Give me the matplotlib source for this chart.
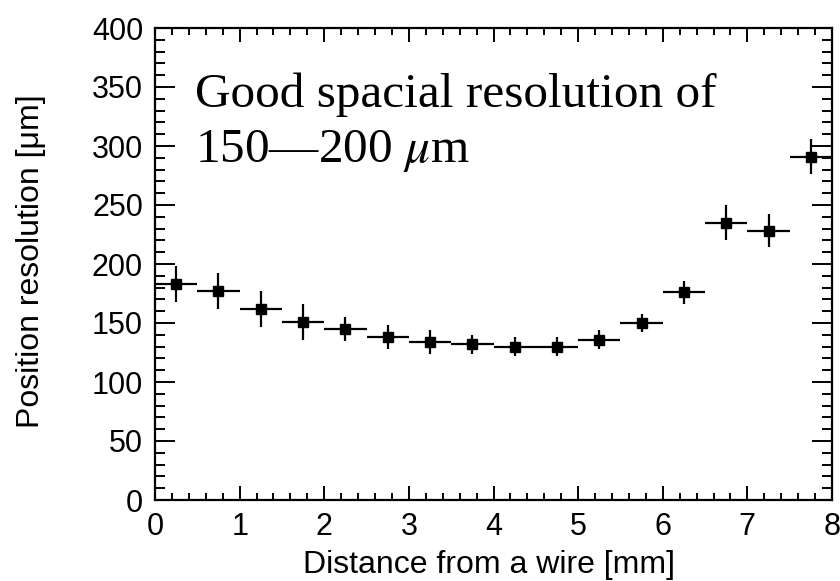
import numpy as np
import matplotlib
matplotlib.use('Agg')
import matplotlib.pyplot as plt
from matplotlib.ticker import MultipleLocator

# bin centres [mm] and resolution [um]
distance = [0.25, 0.75, 1.25, 1.75, 2.25, 2.75, 3.25, 3.75,
            4.25, 4.75, 5.25, 5.75, 6.25, 6.75, 7.25, 7.75]
resolution = [183, 177, 162, 151, 145, 138, 134, 132,
              130, 130, 136, 150, 176, 235, 228, 291]
res_err = [15, 15, 15, 15, 10, 10, 10, 8,
           8, 8, 8, 8, 10, 15, 14, 15]
bin_half = [0.25] * len(distance)

plt.rcParams['font.family'] = ['Liberation Sans', 'DejaVu Sans']
plt.rcParams['mathtext.fontset'] = 'stix'

fig = plt.figure(figsize=(8.4, 5.81), dpi=100)
ax = fig.add_axes([155 / 840, 81 / 581, 677 / 840, 472 / 581])

ax.errorbar(distance, resolution, xerr=bin_half, yerr=res_err,
            fmt='s', color='black', ms=7.2, elinewidth=1.6, capsize=0)

ax.set_xlim(0, 8)
ax.set_ylim(0, 400)
ax.xaxis.set_major_locator(MultipleLocator(1))
ax.xaxis.set_minor_locator(MultipleLocator(0.2))
ax.yaxis.set_major_locator(MultipleLocator(50))
ax.yaxis.set_minor_locator(MultipleLocator(10))

ax.tick_params(axis='both', which='both', direction='in', top=True, right=True,
               width=1.4, labelsize=22, pad=8.6)
ax.tick_params(axis='x', which='major', length=10)
ax.tick_params(axis='x', which='minor', length=5)
ax.tick_params(axis='y', which='major', length=14.4)
ax.tick_params(axis='y', which='minor', length=7.2)
for s in ax.spines.values():
    s.set_linewidth(1.6)

ax.set_xlabel('Distance from a wire [mm]', fontsize=23, va='center')
ax.xaxis.set_label_coords(0.493, -0.138)
ax.set_ylabel('Position resolution [\u03bcm]', fontsize=23, va='center')
ax.yaxis.set_label_coords(-0.183, 0.505)

ax.text(0.059, 0.833, 'Good spacial resolution of', transform=ax.transAxes,
        fontsize=35.5, family=['Liberation Serif'], va='baseline', ha='left')
ax.text(0.059, 0.716, '150\u2014200 $\\mu$m', transform=ax.transAxes,
        fontsize=35.5, family=['Liberation Serif'], va='baseline', ha='left')

fig.savefig('out.png', dpi=100)
